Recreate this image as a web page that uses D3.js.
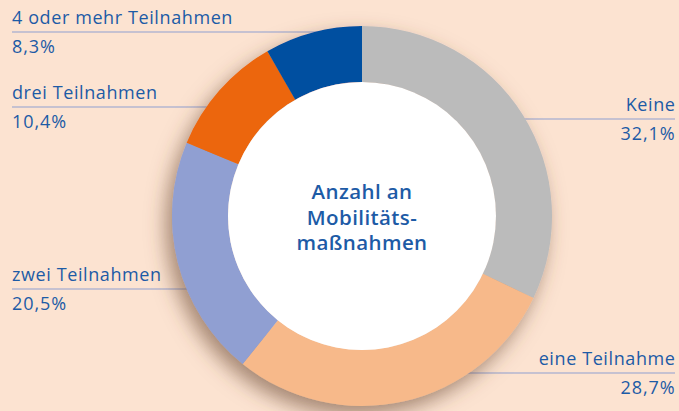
<!DOCTYPE html>
<html>
<head>
<meta charset="utf-8">
<script src="https://cdn.jsdelivr.net/npm/d3@7"></script>
<style>
  html, body { margin: 0; padding: 0; background: #fce3d1; }
  svg { display: block; }
  text { font-family: "Open Sans", sans-serif; fill: #1d5ba6; }
</style>
</head>
<body>
<svg class="donutChart"></svg>
<script>
// chart data
var categories = ["Keine", "eine Teilnahme", "zwei Teilnahmen", "drei Teilnahmen", "4 oder mehr Teilnahmen"];
var values = [32.1, 28.7, 20.5, 10.4, 8.3];
var colors = ["#bbbbbb", "#f7b98a", "#909fd2", "#ec6608", "#0050a0"];
var centerTitle = ["Anzahl an", "Mobilitäts-", "maßnahmen"];

// label layout: which side and the y of the underline
var labelLayout = [
  { side: "right", lineY: 119 },
  { side: "right", lineY: 373 },
  { side: "left", lineY: 289 },
  { side: "left", lineY: 107 },
  { side: "left", lineY: 32 }
];

var svgWidth = 679, svgHeight = 411;
var cx = 362, cy = 216;
var outerR = 190, innerR = 134;

var de = d3.formatLocale({ decimal: ",", thousands: ".", grouping: [3], currency: ["", "€"] });
var fmt = de.format(".1f");

var svg = d3.select("svg.donutChart")
  .attr("width", svgWidth)
  .attr("height", svgHeight);

var defs = svg.append("defs");
var shadow = defs.append("filter")
  .attr("id", "shadow")
  .attr("x", "-30%").attr("y", "-30%")
  .attr("width", "160%").attr("height", "160%");
shadow.append("feDropShadow")
  .attr("dx", -6)
  .attr("dy", 9)
  .attr("stdDeviation", 10)
  .attr("flood-color", "#6a4632")
  .attr("flood-opacity", 0.6);

var data = categories.map(function(c, i) {
  return { name: c, value: values[i], color: colors[i], layout: labelLayout[i] };
});

// underlines for the labels go behind the ring
var labels = svg.append("g").attr("class", "labels");
data.forEach(function(d) {
  var right = d.layout.side === "right";
  var tx = right ? 675.5 : 12;
  labels.append("line")
    .attr("x1", right ? cx : 12).attr("x2", right ? 675 : cx)
    .attr("y1", d.layout.lineY).attr("y2", d.layout.lineY)
    .attr("stroke", "#8f9fd0")
    .attr("stroke-width", 1);
  labels.append("text")
    .attr("x", tx)
    .attr("y", d.layout.lineY - 8)
    .attr("text-anchor", right ? "end" : "start")
    .attr("font-size", 18)
    .attr("letter-spacing", 0.6)
    .text(d.name);
  labels.append("text")
    .attr("x", tx)
    .attr("y", d.layout.lineY + 21)
    .attr("text-anchor", right ? "end" : "start")
    .attr("font-size", 18)
    .attr("letter-spacing", 0.9)
    .text(fmt(d.value) + "%");
});

var pie = d3.pie()
  .sort(null)
  .value(function(d) { return d.value; });

var arc = d3.arc()
  .innerRadius(innerR)
  .outerRadius(outerR);

var ring = svg.append("g")
  .attr("transform", "translate(" + cx + "," + cy + ")");

var slices = ring.append("g").attr("filter", "url(#shadow)");
slices.selectAll("path")
  .data(pie(data))
  .enter().append("path")
    .attr("d", arc)
    .attr("fill", function(d) { return d.data.color; });

ring.append("circle")
  .attr("r", innerR)
  .attr("fill", "#ffffff");

ring.append("g").selectAll("text")
  .data(centerTitle)
  .enter().append("text")
    .attr("text-anchor", "middle")
    .attr("y", function(d, i) { return -17 + i * 25.5; })
    .attr("font-size", 20.5)
    .attr("font-weight", 600)
    .attr("letter-spacing", 0.4)
    .text(function(d) { return d; });
</script>
</body>
</html>
